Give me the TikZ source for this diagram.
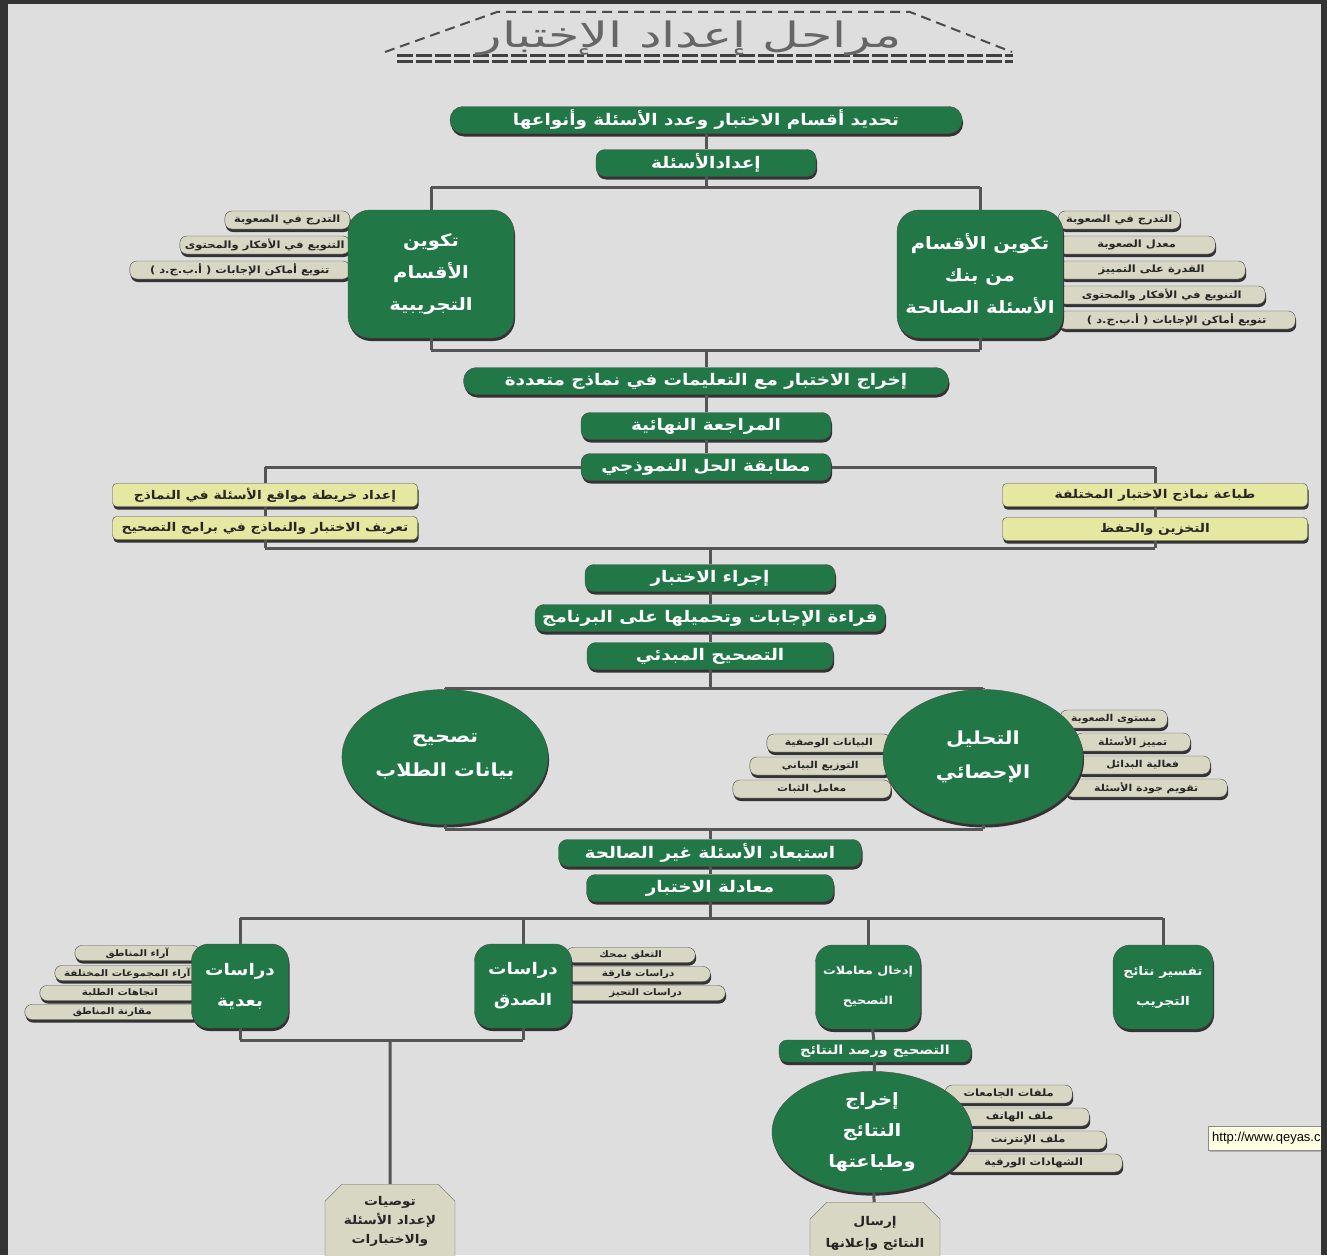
\documentclass[tikz,border=0pt]{standalone}
\usepackage{fontspec}
\usetikzlibrary{shapes.geometric,shapes.misc,shadows}
\TeXXeTstate=1
\newfontfamily\arabicfont[Script=Arabic, FakeStretch=1.15]{DejaVu Sans}
\newfontfamily\titlefont[Script=Arabic, FakeStretch=1.45]{DejaVu Sans}
\setsansfont{Liberation Sans}
\newcommand{\ar}[1]{{\arabicfont\beginR #1\endR}}

\definecolor{bggray}{RGB}{222,222,222}
\definecolor{stagegreen}{RGB}{33,120,70}
\definecolor{itemgray}{RGB}{216,215,196}
\definecolor{noteyellow}{RGB}{228,232,160}
\definecolor{tipyellow}{RGB}{255,255,225}
\definecolor{linkgray}{RGB}{85,85,85}

\tikzset{
  shade/.style={drop shadow={shadow xshift=1pt, shadow yshift=-3pt, fill=black!80, opacity=1}},
  stage/.style={draw=black!70, fill=stagegreen, text=white, rounded corners=9pt, shade,
    minimum height=27, inner sep=1pt, font=\fontsize{16}{18}\selectfont\bfseries},
  bigbox/.style={draw=black!70, fill=stagegreen, text=white, rounded corners=22pt, shade,
    align=center, minimum width=166, minimum height=128, font=\fontsize{17}{32}\selectfont\bfseries},
  smallbox/.style={bigbox, rounded corners=17pt, minimum width=97, minimum height=84,
    font=\fontsize{16}{31}\selectfont\bfseries},
  ball/.style={ellipse, draw=black!70, fill=stagegreen, text=white, shade, align=center,
    minimum width=200, minimum height=135, font=\fontsize{18}{34}\selectfont\bfseries},
  item/.style={draw=black!70, fill=itemgray, text=black!85, rounded corners=7pt, shade,
    minimum height=18, inner sep=0pt, font=\fontsize{10}{11}\selectfont\bfseries},
  smallitem/.style={item, minimum height=15, font=\fontsize{9}{10}\selectfont\bfseries},
  note/.style={draw=black!70, fill=noteyellow, text=black!85, rounded corners=4pt, shade,
    minimum width=305, minimum height=23, inner sep=1pt, font=\fontsize{12}{13}\selectfont\bfseries},
  tomb/.style={chamfered rectangle, chamfered rectangle corners={north west,north east},
    chamfered rectangle xsep=14pt, draw=black!60, fill=itemgray, text=black!85, align=center,
    minimum width=130, inner sep=1pt, font=\fontsize{12}{19}\selectfont\bfseries},
  link/.style={draw=linkgray, line width=3pt}
}

\begin{document}
\begin{tikzpicture}[x=1pt,y=-1pt]

	\useasboundingbox (0,0) rectangle (1327,1255);
	\fill[bggray] (0,0) rectangle (1327,1255);

	% title
	\draw[black!70, line width=2pt, dash pattern=on 10pt off 6pt] (385,52) -- (497,12) -- (910,12) -- (1012,52);
	\draw[black!75, line width=3pt, dash pattern=on 16pt off 3pt] (397,56) -- (1013,56);
	\draw[black!75, line width=3pt, dash pattern=on 16pt off 3pt] (397,62) -- (1013,62);
	\node (title) [text=black!60, font=\fontsize{35}{38}\selectfont] at (690,38) {\titlefont\beginR مراحل إعداد الإختبار\endR};

	% bus points
	\coordinate (a1) at (431,187);
	\coordinate (a2) at (706,187);
	\coordinate (a3) at (980,187);
	\coordinate (b1) at (431,350);
	\coordinate (b2) at (706,350);
	\coordinate (b3) at (980,350);
	\coordinate (c1) at (265,467);
	\coordinate (c3) at (1155,467);
	\coordinate (d1) at (265,548);
	\coordinate (d2) at (710,548);
	\coordinate (d3) at (1155,548);
	\coordinate (e1) at (445,688);
	\coordinate (e2) at (710,688);
	\coordinate (e3) at (983,688);
	\coordinate (f1) at (445,829);
	\coordinate (f2) at (710,829);
	\coordinate (f3) at (983,829);
	\coordinate (g1) at (240,918);
	\coordinate (g2) at (523,918);
	\coordinate (g0) at (710,918);
	\coordinate (g3) at (868,918);
	\coordinate (g4) at (1163,918);
	\coordinate (h1) at (240,1040);
	\coordinate (h2) at (390,1040);
	\coordinate (h3) at (523,1040);

	\path[link]
	(a1) edge (a3)
	(b1) edge (b3)
	(c1) edge (c3)
	(d1) edge (d3)
	(e1) edge (e3)
	(f1) edge (f3)
	(g1) edge (g4)
	(h1) edge (h3);

	% side items
	\node (t1) [item, anchor=east, minimum width=125] at (350,220) {\ar{التدرج في الصعوبة}};
	\node (t2) [item, anchor=east, minimum width=170] at (350,245) {\ar{التنويع في الأفكار والمحتوى}};
	\node (t3) [item, anchor=east, minimum width=220] at (350,270) {\ar{تنويع أماكن الإجابات ( أ.ب.ج.د )}};
	\node (k1) [item, anchor=west, minimum width=122] at (1058,220) {\ar{التدرج في الصعوبة}};
	\node (k2) [item, anchor=west, minimum width=157] at (1058,245) {\ar{معدل الصعوبة}};
	\node (k3) [item, anchor=west, minimum width=187] at (1058,270) {\ar{القدرة على التمييز}};
	\node (k4) [item, anchor=west, minimum width=207] at (1058,295) {\ar{التنويع في الأفكار والمحتوى}};
	\node (k5) [item, anchor=west, minimum width=237] at (1058,320) {\ar{تنويع أماكن الإجابات ( أ.ب.ج.د )}};

	\node (s1) [item, anchor=west, minimum width=107, font=\fontsize{9.5}{10}\selectfont\bfseries] at (1060,719) {\ar{مستوى الصعوبة}};
	\node (s2) [item, anchor=west, minimum width=115, font=\fontsize{9.5}{10}\selectfont\bfseries] at (1075,742) {\ar{تمييز الأسئلة}};
	\node (s3) [item, anchor=west, minimum width=135, font=\fontsize{9.5}{10}\selectfont\bfseries] at (1075,765) {\ar{فعالية البدائل}};
	\node (s4) [item, anchor=west, minimum width=162, font=\fontsize{9.5}{10}\selectfont\bfseries] at (1065,788) {\ar{تقويم جودة الأسئلة}};
	\node (u1) [item, anchor=east, minimum width=124, font=\fontsize{9.5}{10}\selectfont\bfseries] at (891,743) {\ar{البيانات الوصفية}};
	\node (u2) [item, anchor=east, minimum width=141, font=\fontsize{9.5}{10}\selectfont\bfseries] at (891,766) {\ar{التوزيع البياني}};
	\node (u3) [item, anchor=east, minimum width=158, font=\fontsize{9.5}{10}\selectfont\bfseries] at (891,789) {\ar{معامل الثبات}};

	\node (p1) [smallitem, anchor=east, minimum width=125] at (200,953) {\ar{آراء المناطق}};
	\node (p2) [smallitem, anchor=east, minimum width=145] at (200,973) {\ar{آراء المجموعات المختلفة}};
	\node (p3) [smallitem, anchor=east, minimum width=160] at (200,993) {\ar{اتجاهات الطلبة}};
	\node (p4) [smallitem, anchor=east, minimum width=175] at (200,1012) {\ar{مقارنة المناطق}};
	\node (v1) [smallitem, anchor=west, minimum width=129] at (566,955) {\ar{التعلق بمحك}};
	\node (v2) [smallitem, anchor=west, minimum width=144] at (566,974) {\ar{دراسات فارقة}};
	\node (v3) [smallitem, anchor=west, minimum width=159] at (566,993) {\ar{دراسات التحيز}};

	\node (r1) [item, anchor=west, minimum width=127] at (945,1094) {\ar{ملفات الجامعات}};
	\node (r2) [item, anchor=west, minimum width=139] at (950,1117) {\ar{ملف الهاتف}};
	\node (r3) [item, anchor=west, minimum width=156] at (950,1140) {\ar{ملف الإنترنت}};
	\node (r4) [item, anchor=west, minimum width=177] at (945,1163) {\ar{الشهادات الورقية}};

	% main boxes
	\node (q1) [stage, minimum width=512, rounded corners=13pt] at (706,120) {\ar{تحديد أقسام الاختبار وعدد الأسئلة وأنواعها}};
	\node (q2) [stage, minimum width=220] at (706,163) {\ar{إعدادالأسئلة}};
	\node (trial) [bigbox] at (431,274) {\ar{تكوين}\\\ar{الأقسام}\\\ar{التجريبية}};
	\node (bank) [bigbox] at (980,274) {\ar{تكوين الأقسام}\\\ar{من بنك}\\\ar{الأسئلة الصالحة}};
	\node (out) [stage, minimum width=485, rounded corners=13pt] at (706,381) {\ar{إخراج الاختبار مع التعليمات في نماذج متعددة}};
	\node (rev) [stage, minimum width=250] at (706,426) {\ar{المراجعة النهائية}};
	\node (key) [stage, minimum width=250] at (706,467) {\ar{مطابقة الحل النموذجي}};
	\node (map) [note] at (265,495) {\ar{إعداد خريطة مواقع الأسئلة في النماذج}};
	\node (def) [note] at (265,528) {\ar{تعريف الاختبار والنماذج في برامج التصحيح}};
	\node (prt) [note] at (1155,495) {\ar{طباعة نماذج الاختبار المختلفة}};
	\node (sto) [note] at (1155,529) {\ar{التخزين والحفظ}};
	\node (run) [stage, minimum width=250] at (710,578) {\ar{إجراء الاختبار}};
	\node (scan) [stage, minimum width=350] at (710,618) {\ar{قراءة الإجابات وتحميلها على البرنامج}};
	\node (pre) [stage, minimum width=246] at (710,656) {\ar{التصحيح المبدئي}};
	\node (fix) [ball] at (445,757) {\ar{تصحيح}\\\ar{بيانات الطلاب}};
	\node (stat) [ball] at (983,757) {\ar{التحليل}\\\ar{الإحصائي}};
	\node (drop) [stage, minimum width=303] at (710,853) {\ar{استبعاد الأسئلة غير الصالحة}};
	\node (eq) [stage, minimum width=247] at (710,888) {\ar{معادلة الاختبار}};
	\node (post) [smallbox] at (240,986) {\ar{دراسات}\\\ar{بعدية}};
	\node (valid) [smallbox] at (523,986) {\ar{دراسات}\\\ar{الصدق}};
	\node (coef) [smallbox, minimum width=105, font=\fontsize{11}{30}\selectfont\bfseries] at (868,987) {\ar{إدخال معاملات}\\\ar{التصحيح}};
	\node (interp) [smallbox, minimum width=100, font=\fontsize{12}{30}\selectfont\bfseries] at (1163,987) {\ar{تفسير نتائج}\\\ar{التجريب}};
	\node (mark) [stage, minimum width=192, minimum height=22, rounded corners=8pt, font=\fontsize{12.5}{13}\selectfont\bfseries] at (875,1051) {\ar{التصحيح ورصد النتائج}};
	\node (res) [ball, minimum height=118, font=\fontsize{17}{31}\selectfont\bfseries] at (872,1132) {\ar{إخراج}\\\ar{النتائج}\\\ar{وطباعتها}};
	\node (recs) [tomb, anchor=north, minimum height=74] at (390,1184) {\ar{توصيات}\\\ar{لإعداد الأسئلة}\\\ar{والاختبارات}};
	\node (send) [tomb, anchor=north, minimum height=62, font=\fontsize{12}{22}\selectfont\bfseries] at (875,1202) {\ar{إرسال}\\\ar{النتائج وإعلانها}};

	% connectors
	\path[link]
	(q1) edge (q2)
	(q2) edge (a2)
	(a1) edge (trial)
	(a3) edge (bank)
	(trial) edge (b1)
	(bank) edge (b3)
	(b2) edge (out)
	(out) edge (rev)
	(rev) edge (key)
	(c1) edge (map)
	(map) edge (def)
	(def) edge (d1)
	(c3) edge (prt)
	(prt) edge (sto)
	(sto) edge (d3)
	(d2) edge (run)
	(run) edge (scan)
	(scan) edge (pre)
	(pre) edge (e2)
	(e1) edge (fix)
	(e3) edge (stat)
	(fix) edge (f1)
	(stat) edge (f3)
	(f2) edge (drop)
	(drop) edge (eq)
	(eq) edge (g0)
	(g1) edge (post)
	(g2) edge (valid)
	(g3) edge (coef)
	(g4) edge (interp)
	(post) edge (h1)
	(valid) edge (h3)
	(h2) edge (recs)
	(coef) edge (mark)
	(mark) edge (res)
	(res) edge (send);

	% browser tip
	\node (url) [draw=black!45, fill=tipyellow, anchor=west, minimum height=24, inner xsep=4pt,
	  font=\sffamily\fontsize{13}{15}\selectfont, drop shadow={shadow xshift=2pt, shadow yshift=-2pt, fill=black!30, opacity=1}]
	  at (1208,1138) {http://www.qeyas.c};

	% frame
	\fill[black!80] (0,0) rectangle (8,1255);
	\fill[black!80] (0,0) rectangle (1327,4);
	\fill[black!80] (1321,0) rectangle (1327,1255);

\end{tikzpicture}
\end{document}
